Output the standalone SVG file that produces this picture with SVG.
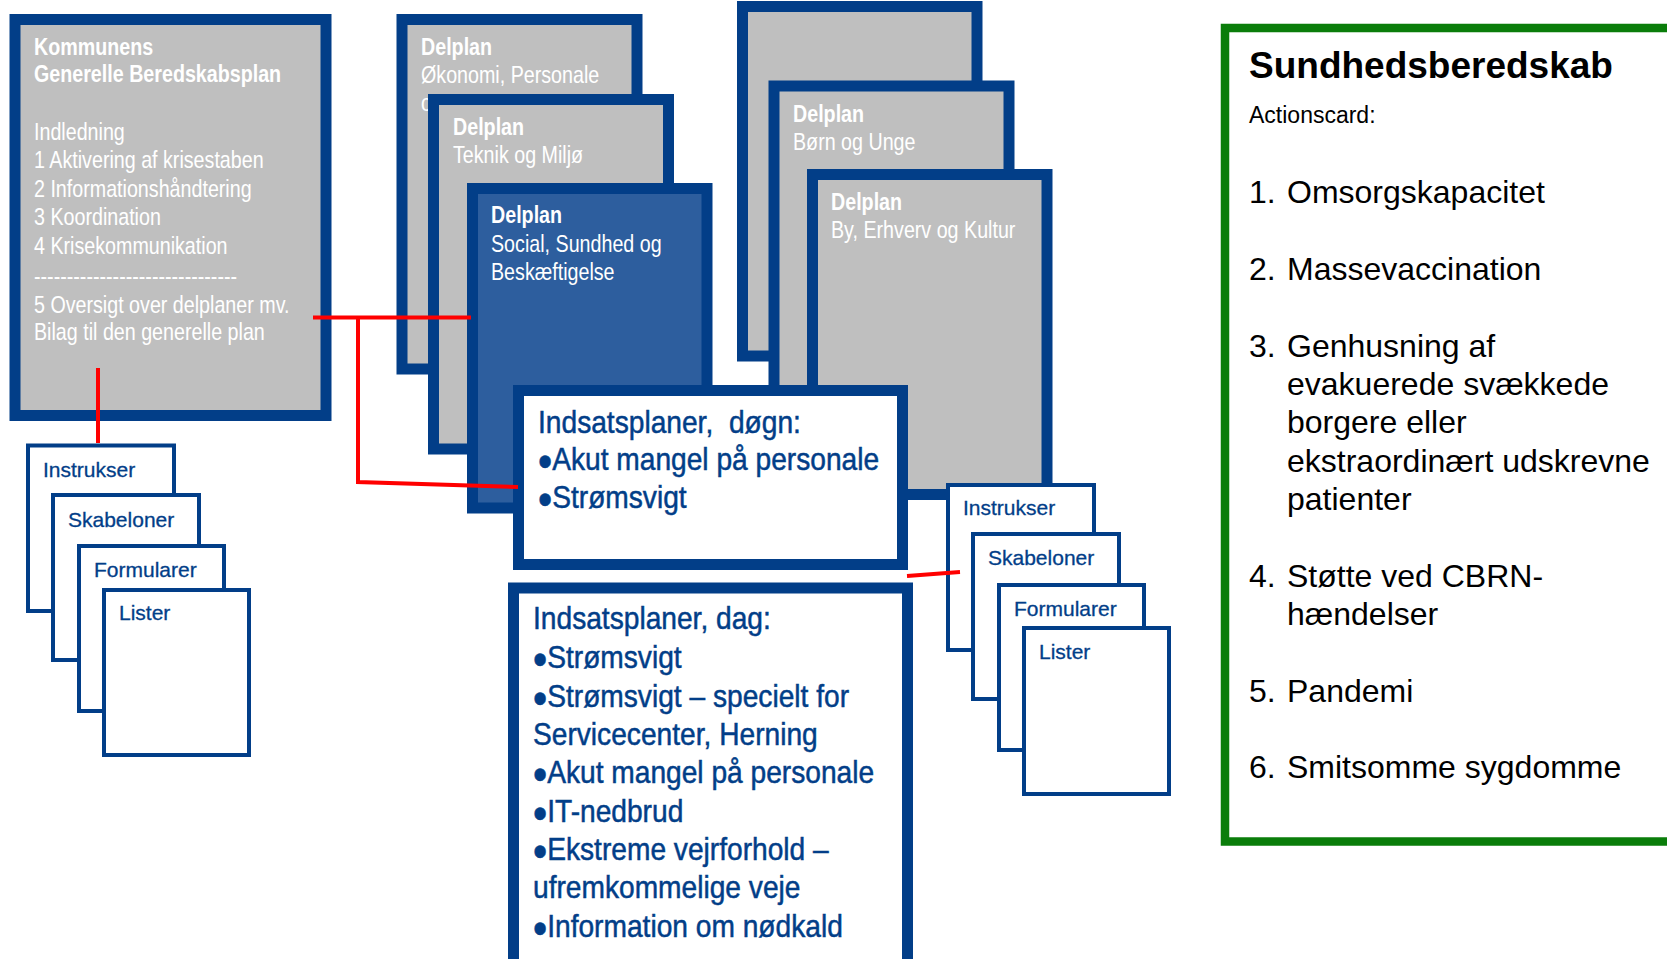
<svg xmlns="http://www.w3.org/2000/svg" width="1667" height="959" viewBox="0 0 1667 959">
<style>
.n{font-family:"Liberation Sans",Arial,sans-serif;}
.frame{stroke:#023E88;stroke-width:11;}
.gray{fill:#BFBFBF;}
.wt{fill:#FFFFFF;font-size:24px;}
.b{font-weight:bold;}
.small{fill:#FFFFFF;stroke:#023E88;stroke-width:4;}
.st{fill:#023E88;font-size:21px;stroke:#023E88;stroke-width:0.3;}
.bt{fill:#023E88;font-size:32px;stroke:#023E88;stroke-width:0.5;}
.bul{font-size:46px;}
.rt{font-family:"Liberation Sans",Arial,sans-serif;fill:#000000;font-size:32px;}
.red{stroke:#FF0000;stroke-width:4;fill:none;}
</style>
<rect width="1667" height="959" fill="#FFFFFF"/>
<g id="main">
<rect x="15" y="19.5" width="311" height="396" class="frame gray"/>
<g class="n wt" transform="translate(34,0) scale(0.82,1)">
<text x="0" y="55" class="b">Kommunens</text>
<text x="0" y="82" class="b">Generelle Beredskabsplan</text>
<text x="0" y="140">Indledning</text>
<text x="0" y="168.5">1 Aktivering af krisestaben</text>
<text x="0" y="197">2 Informationshåndtering</text>
<text x="0" y="225.5">3 Koordination</text>
<text x="0" y="254">4 Krisekommunikation</text>
<text x="0" y="284">-------------------------------</text>
<text x="0" y="313">5 Oversigt over delplaner mv.</text>
<text x="0" y="340">Bilag til den generelle plan</text>
</g>
</g>
<g id="delplan-okonomi">
<rect x="402" y="19.5" width="235" height="349.5" class="frame gray"/>
<g class="n wt" transform="translate(421,0) scale(0.82,1)"><text x="0" y="55" class="b">Delplan</text><text x="0" y="83">Økonomi, Personale</text><text x="0" y="111">o</text></g>
</g>
<g id="delplan-teknik">
<rect x="433.5" y="99.5" width="235" height="349.5" class="frame gray"/>
<g class="n wt" transform="translate(453,0) scale(0.82,1)"><text x="0" y="135" class="b">Delplan</text><text x="0" y="163">Teknik og Miljø</text></g>
</g>
<g id="delplan-social">
<rect x="472.5" y="188.5" width="234.5" height="319.5" class="frame" fill="#2D5E9E"/>
<g class="n wt" transform="translate(491,0) scale(0.82,1)"><text x="0" y="223" class="b">Delplan</text><text x="0" y="252">Social, Sundhed og</text><text x="0" y="280">Beskæftigelse</text></g>
</g>
<g id="delplan-top">
<rect x="742.5" y="6.5" width="234.5" height="349.5" class="frame gray"/>
</g>
<g id="delplan-born">
<rect x="774" y="86" width="235" height="349.5" class="frame gray"/>
<g class="n wt" transform="translate(793,0) scale(0.82,1)"><text x="0" y="122" class="b">Delplan</text><text x="0" y="150">Børn og Unge</text></g>
</g>
<g id="delplan-by">
<rect x="812.5" y="174.5" width="234.5" height="320" class="frame gray"/>
<g class="n wt" transform="translate(831,0) scale(0.82,1)"><text x="0" y="210" class="b">Delplan</text><text x="0" y="238">By, Erhverv og Kultur</text></g>
</g>
<g id="indsats-dogn">
<rect x="518.5" y="390.5" width="384" height="174" class="frame" fill="#FFFFFF"/>
<g class="n bt" transform="translate(538,0) scale(0.88,1)">
<text x="0" y="433" xml:space="preserve">Indsatsplaner,  døgn:</text>
<text x="0" y="470"><tspan class="bul" dy="7">•</tspan><tspan dy="-7">Akut mangel på personale</tspan></text>
<text x="0" y="508"><tspan class="bul" dy="7">•</tspan><tspan dy="-7">Strømsvigt</tspan></text>
</g>
</g>
<g id="right-instrukser"><rect x="948" y="485" width="146" height="165" class="small"/><text x="963" y="515" class="n st">Instrukser</text></g>
<g id="right-skabeloner"><rect x="973" y="534" width="146" height="165" class="small"/><text x="988" y="565" class="n st">Skabeloner</text></g>
<g id="right-formularer"><rect x="999" y="585" width="145" height="165" class="small"/><text x="1014" y="616" class="n st">Formularer</text></g>
<g id="right-lister"><rect x="1024" y="628" width="145" height="166" class="small"/><text x="1039" y="659" class="n st">Lister</text></g>
<g id="indsats-dag">
<rect x="513.5" y="588" width="394" height="400" class="frame" fill="#FFFFFF"/>
<g class="n bt" transform="translate(533,0) scale(0.88,1)">
<text x="0" y="629">Indsatsplaner, dag:</text>
<text x="0" y="668"><tspan class="bul" dy="7">•</tspan><tspan dy="-7">Strømsvigt</tspan></text>
<text x="0" y="707"><tspan class="bul" dy="7">•</tspan><tspan dy="-7">Strømsvigt – specielt for</tspan></text>
<text x="0" y="745">Servicecenter, Herning</text>
<text x="0" y="783"><tspan class="bul" dy="7">•</tspan><tspan dy="-7">Akut mangel på personale</tspan></text>
<text x="0" y="822"><tspan class="bul" dy="7">•</tspan><tspan dy="-7">IT-nedbrud</tspan></text>
<text x="0" y="860"><tspan class="bul" dy="7">•</tspan><tspan dy="-7">Ekstreme vejrforhold –</tspan></text>
<text x="0" y="898">ufremkommelige veje</text>
<text x="0" y="937"><tspan class="bul" dy="7">•</tspan><tspan dy="-7">Information om nødkald</tspan></text>
</g>
</g>
<g id="left-instrukser"><rect x="28" y="445.5" width="146" height="165.5" class="small"/><text x="43" y="477" class="n st">Instrukser</text></g>
<g id="left-skabeloner"><rect x="53" y="495" width="146" height="165" class="small"/><text x="68" y="527" class="n st">Skabeloner</text></g>
<g id="left-formularer"><rect x="79" y="546" width="145" height="165" class="small"/><text x="94" y="577" class="n st">Formularer</text></g>
<g id="left-lister"><rect x="104" y="590" width="145" height="165" class="small"/><text x="119" y="620" class="n st">Lister</text></g>
<g id="sundhed">
<rect x="1225" y="28" width="500" height="813.5" fill="#FFFFFF" stroke="#0A7D0A" stroke-width="8.5"/>
<g class="rt">
<text x="1249" y="78" font-weight="bold" font-size="37">Sundhedsberedskab</text>
<text x="1249" y="123" font-size="23">Actionscard:</text>
<text x="1249" y="203">1.</text><text x="1287" y="203">Omsorgskapacitet</text>
<text x="1249" y="280">2.</text><text x="1287" y="280">Massevaccination</text>
<text x="1249" y="357">3.</text><text x="1287" y="357">Genhusning af</text>
<text x="1287" y="395">evakuerede svækkede</text>
<text x="1287" y="433">borgere eller</text>
<text x="1287" y="472">ekstraordinært udskrevne</text>
<text x="1287" y="510">patienter</text>
<text x="1249" y="587">4.</text><text x="1287" y="587">Støtte ved CBRN-</text>
<text x="1287" y="625">hændelser</text>
<text x="1249" y="702">5.</text><text x="1287" y="702">Pandemi</text>
<text x="1249" y="778">6.</text><text x="1287" y="778">Smitsomme sygdomme</text>
</g>
</g>
<g id="connectors" class="red">
<polyline points="313,317.5 471,317.5"/>
<polyline points="358,317.5 358,482 518,487"/>
<line x1="98" y1="368" x2="98" y2="443"/>
<line x1="907" y1="576" x2="960" y2="572"/>
</g>
</svg>
